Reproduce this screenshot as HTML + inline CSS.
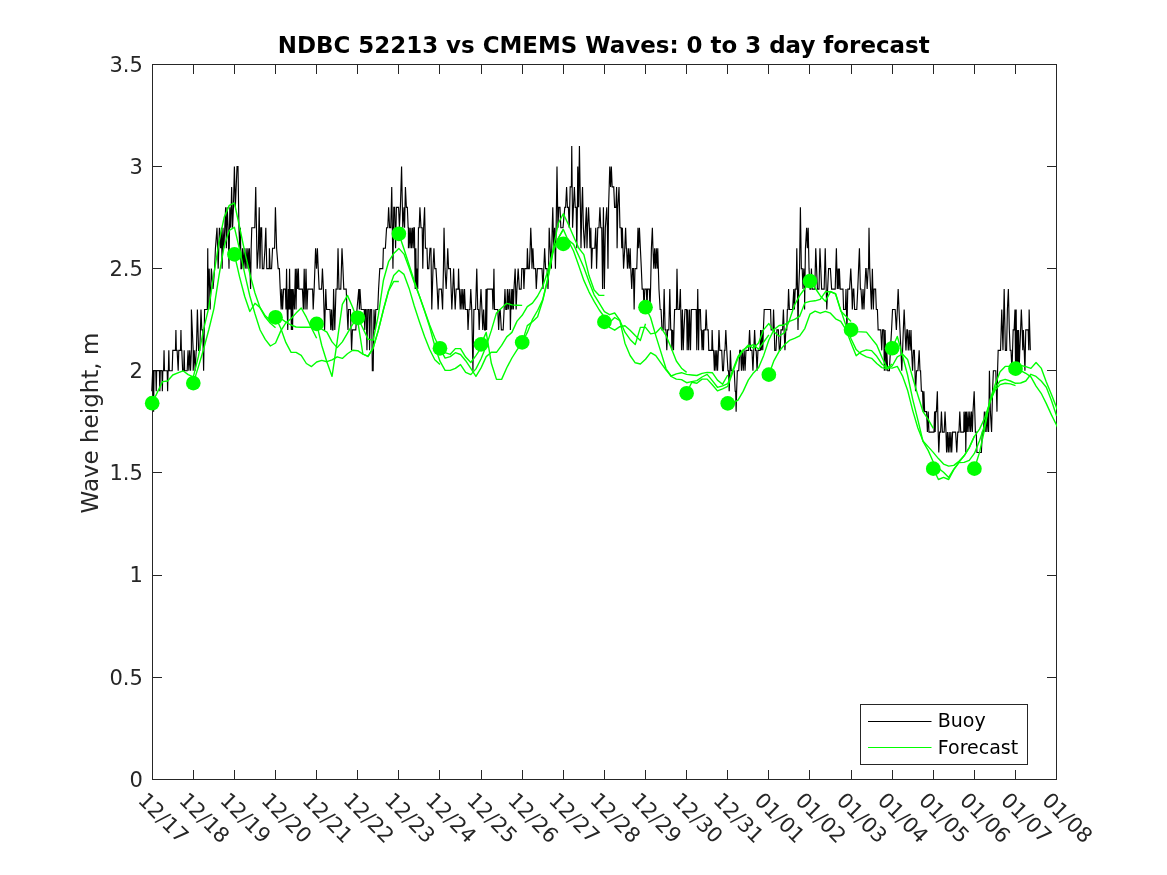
<!DOCTYPE html>
<html lang="en"><head><meta charset="utf-8"><title>NDBC 52213 vs CMEMS Waves: 0 to 3 day forecast</title>
<style>html,body{margin:0;padding:0;background:#fff;}body{width:1167px;height:875px;overflow:hidden;}svg{display:block;}text{font-family:"DejaVu Sans","Liberation Sans",sans-serif;fill:#262626;}.tk{font-size:21px;}.ax{stroke:#262626;stroke-width:1;fill:none;shape-rendering:crispEdges;}</style></head><body>
<svg width="1167" height="875" viewBox="0 0 1167 875">
<rect x="0" y="0" width="1167" height="875" fill="#ffffff"/>
<defs><clipPath id="axclip"><rect x="152" y="64" width="905" height="716"/></clipPath></defs>
<rect class="ax" x="152.5" y="64.5" width="904.0" height="715.0"/>
<path class="ax" d="M193.5 779.5v-9.5M193.5 64.5v9.5M234.5 779.5v-9.5M234.5 64.5v9.5M275.5 779.5v-9.5M275.5 64.5v9.5M316.5 779.5v-9.5M316.5 64.5v9.5M357.5 779.5v-9.5M357.5 64.5v9.5M398.5 779.5v-9.5M398.5 64.5v9.5M439.5 779.5v-9.5M439.5 64.5v9.5M481.5 779.5v-9.5M481.5 64.5v9.5M522.5 779.5v-9.5M522.5 64.5v9.5M563.5 779.5v-9.5M563.5 64.5v9.5M604.5 779.5v-9.5M604.5 64.5v9.5M645.5 779.5v-9.5M645.5 64.5v9.5M686.5 779.5v-9.5M686.5 64.5v9.5M727.5 779.5v-9.5M727.5 64.5v9.5M768.5 779.5v-9.5M768.5 64.5v9.5M809.5 779.5v-9.5M809.5 64.5v9.5M851.5 779.5v-9.5M851.5 64.5v9.5M892.5 779.5v-9.5M892.5 64.5v9.5M933.5 779.5v-9.5M933.5 64.5v9.5M974.5 779.5v-9.5M974.5 64.5v9.5M1015.5 779.5v-9.5M1015.5 64.5v9.5M152.5 677.5h9.5M1056.5 677.5h-9.5M152.5 575.5h9.5M1056.5 575.5h-9.5M152.5 472.5h9.5M1056.5 472.5h-9.5M152.5 370.5h9.5M1056.5 370.5h-9.5M152.5 268.5h9.5M1056.5 268.5h-9.5M152.5 166.5h9.5M1056.5 166.5h-9.5"/>
<g fill="none" stroke-linejoin="round" stroke-linecap="butt">
<path d="M151.80,391.21 152.64,370.78 153.15,370.78 153.60,411.64 154.05,370.78 154.80,370.78 155.79,370.78 156.24,391.21 156.69,370.78 159.39,370.78 159.84,391.21 160.29,370.78 161.40,370.78 161.91,370.78 162.36,391.21 162.81,370.78 163.20,370.78 163.59,370.78 164.04,350.35 164.49,370.78 165.00,370.78 166.80,370.78 167.18,370.78 167.63,391.21 168.08,370.78 168.23,370.78 168.38,370.78 168.83,350.35 169.28,370.78 169.79,370.78 172.19,370.78 172.79,350.35 175.19,350.35 175.46,350.35 175.91,329.92 176.36,350.35 177.11,350.35 178.19,370.78 178.79,350.35 179.99,350.35 180.50,350.35 180.95,329.92 181.40,350.35 181.79,350.35 182.63,370.78 183.59,370.78 183.74,370.78 184.19,350.35 184.64,370.78 184.79,370.78 187.19,370.78 187.19,370.78 188.03,350.35 188.87,370.78 189.71,350.35 190.55,370.78 191.39,350.35 191.39,350.35 191.39,309.49 193.19,350.35 193.19,370.78 194.19,350.35 195.19,370.78 196.19,350.35 196.43,350.35 197.39,309.49 198.59,350.35 199.79,350.35 200.99,309.49 201.83,329.92 202.78,329.92 203.62,370.78 204.58,309.49 205.78,309.49 206.20,309.49 207.30,309.49 207.75,248.21 208.20,309.49 208.23,289.06 209.19,268.64 210.15,309.49 211.35,268.64 213.03,289.06 214.59,268.64 215.43,248.21 216.99,227.78 218.19,268.64 219.39,227.78 220.59,248.21 221.43,227.78 222.15,268.64 222.99,227.78 223.83,248.21 224.79,227.78 225.63,207.35 226.35,248.21 227.19,207.35 228.15,227.78 228.99,268.64 229.83,207.35 230.79,227.78 231.63,186.92 232.59,227.78 233.43,207.35 234.39,166.49 235.35,207.35 236.19,186.92 237.03,166.49 237.99,166.49 238.95,227.78 239.79,248.21 240.39,227.78 240.99,268.64 241.59,268.64 242.49,248.21 243.38,268.64 244.28,248.21 245.18,268.64 246.08,248.21 246.98,268.64 247.88,248.21 248.78,268.64 249.38,248.21 250.58,289.06 251.18,248.21 251.78,227.78 254.78,227.78 255.74,186.92 257.18,268.64 258.38,248.21 259.22,207.35 259.94,268.64 260.78,227.78 261.62,227.78 262.34,268.64 263.78,268.64 264.98,248.21 265.82,227.78 266.78,268.64 269.18,268.64 269.42,248.21 270.14,268.64 271.58,268.64 272.54,248.21 274.58,248.21 275.42,207.35 276.62,248.21 278.17,268.64 279.37,268.64 280.21,289.06 281.17,309.49 281.77,289.06 282.61,309.49 283.57,289.06 285.37,289.06 285.97,309.49 286.57,268.64 287.17,309.49 287.77,329.92 288.37,289.06 288.97,309.49 289.57,268.64 290.17,309.49 290.77,289.06 291.37,329.92 291.97,289.06 292.57,329.92 293.17,289.06 294.37,309.49 295.33,268.64 296.05,309.49 296.77,268.64 297.61,289.06 298.33,268.64 298.93,289.06 302.17,289.06 302.40,289.06 303.36,309.49 304.20,268.64 305.04,309.49 306.00,268.64 306.96,309.49 307.80,289.06 312.60,289.06 313.20,309.49 314.16,289.06 315.60,248.21 316.56,268.64 317.40,248.21 318.23,268.64 319.19,289.06 321.59,289.06 322.43,268.64 323.39,289.06 324.59,329.92 325.79,289.06 326.63,309.49 329.39,309.49 329.99,309.49 330.79,329.92 331.59,309.49 332.39,329.92 332.99,329.92 333.59,289.06 334.79,329.92 335.99,289.06 337.19,289.06 338.03,248.21 338.99,289.06 340.79,289.06 341.99,248.21 342.95,268.64 343.79,289.06 346.19,289.06 347.03,309.49 347.99,329.92 348.59,309.49 350.39,309.49 351.59,350.35 352.43,329.92 355.78,329.92 356.98,309.49 358.78,289.06 359.38,309.49 359.98,289.06 361.18,309.49 364.18,309.49 364.78,329.92 365.38,309.49 366.22,309.49 366.94,350.35 367.78,309.49 368.98,309.49 369.58,350.35 370.42,309.49 371.62,309.49 372.34,370.78 373.18,370.78 374.02,309.49 374.98,329.92 375.82,309.49 377.74,309.49 378.58,289.06 379.78,268.64 382.78,268.64 383.38,248.21 385.18,248.21 385.38,248.21 386.58,227.78 387.78,227.78 388.62,207.35 389.58,227.78 390.78,227.78 391.74,186.92 392.94,268.64 393.78,207.35 394.62,207.35 395.58,248.21 396.42,207.35 398.58,207.35 399.42,227.78 400.38,207.35 401.58,166.49 402.78,227.78 403.98,207.35 404.58,227.78 405.42,186.92 406.38,207.35 407.34,207.35 408.17,227.78 408.40,227.78 408.40,248.21 409.20,227.78 410.00,248.21 410.80,227.78 411.60,248.21 412.40,227.78 413.20,248.21 413.80,227.78 414.40,227.78 415.24,289.06 415.84,248.21 416.44,289.06 417.04,268.64 417.75,289.06 418.47,227.78 419.19,227.78 419.91,207.35 420.99,227.78 422.19,227.78 422.79,268.64 423.63,227.78 424.59,207.35 425.43,248.21 426.99,248.21 427.59,268.64 428.79,268.64 429.99,248.21 430.95,248.21 431.79,309.49 432.99,268.64 433.95,248.21 434.79,268.64 435.99,268.64 437.19,289.06 438.15,309.49 438.99,289.06 441.39,289.06 442.59,309.49 443.43,268.64 444.03,227.78 444.99,268.64 446.19,289.06 447.03,268.64 447.75,248.21 448.59,268.64 450.39,268.64 451.11,289.06 451.83,309.49 452.78,289.06 453.62,268.64 454.34,289.06 455.18,309.49 456.14,289.06 458.18,289.06 458.54,268.64 459.14,289.06 459.38,289.06 460.24,309.49 461.10,289.06 461.95,309.49 462.81,289.06 463.67,309.49 464.52,289.06 465.38,309.49 465.74,309.49 467.42,309.49 468.02,329.92 468.98,309.49 469.94,309.49 470.78,289.06 471.74,309.49 472.94,370.78 473.90,309.49 475.58,309.49 476.78,268.64 477.74,309.49 478.58,309.49 479.18,329.92 480.02,309.49 480.98,289.06 481.94,309.49 482.78,329.92 483.62,309.49 484.58,329.92 485.42,329.92 486.02,289.06 486.62,329.92 487.22,289.06 492.37,289.06 492.97,309.49 493.57,289.06 493.93,268.64 494.53,309.49 497.17,309.49 497.77,309.49 498.67,329.92 499.57,309.49 500.17,309.49 501.37,329.92 503.17,329.92 504.13,309.49 504.97,289.06 505.81,309.49 506.77,309.49 507.37,289.06 507.37,289.06 508.29,309.49 509.21,289.06 510.13,309.49 510.37,329.92 511.21,289.06 511.21,289.06 511.93,309.49 512.65,289.06 513.37,309.49 513.97,289.06 515.17,268.64 516.13,309.49 516.97,289.06 518.17,268.64 519.37,289.06 521.17,289.06 521.77,268.64 523.32,268.64 523.92,289.06 524.76,268.64 526.92,268.64 527.40,248.21 528.12,268.64 529.32,268.64 530.16,248.21 530.76,227.78 531.60,248.21 531.96,268.64 532.92,248.21 533.76,268.64 535.56,268.64 536.28,289.06 537.36,268.64 540.00,268.64 540.00,268.64 542.00,268.64 542.96,289.06 543.80,268.64 544.64,248.21 545.60,268.64 547.04,268.64 547.99,289.06 548.59,268.64 549.19,227.78 550.15,248.21 551.35,268.64 552.19,227.78 552.79,207.35 553.63,248.21 554.59,227.78 555.43,268.64 556.15,227.78 556.99,166.49 557.95,227.78 558.79,207.35 559.99,207.35 560.83,227.78 562.99,227.78 564.79,207.35 565.63,207.35 566.59,186.92 567.43,207.35 568.39,207.35 569.23,227.78 570.19,186.92 571.39,186.92 571.75,146.06 572.59,227.78 573.43,207.35 574.39,186.92 575.23,207.35 576.19,207.35 576.79,248.21 577.39,207.35 577.75,166.49 578.59,207.35 579.43,146.06 580.39,207.35 580.99,248.21 581.83,207.35 582.54,186.92 583.38,227.78 584.58,248.21 585.42,227.78 586.38,207.35 586.98,248.21 587.58,227.78 588.54,207.35 589.38,227.78 589.98,248.21 590.82,227.78 591.54,268.64 592.38,248.21 594.78,248.21 595.74,227.78 596.58,268.64 597.18,248.21 597.78,227.78 598.98,227.78 599.94,207.35 600.78,227.78 601.74,227.78 602.58,289.06 603.42,207.35 604.38,289.06 605.34,227.78 606.78,207.35 607.38,227.78 607.98,268.64 608.58,207.35 609.18,186.92 609.78,166.49 610.62,186.92 611.34,166.49 612.18,186.92 613.74,186.92 614.58,207.35 615.42,207.35 615.90,207.35 616.62,186.92 617.10,248.21 617.81,207.35 619.01,186.92 619.97,227.78 621.17,227.78 621.77,248.21 622.37,227.78 623.57,268.64 624.77,248.21 625.61,227.78 626.33,248.21 626.57,248.21 627.47,268.64 628.37,248.21 629.27,268.64 630.17,248.21 630.77,268.64 631.73,289.06 632.57,268.64 633.41,268.64 634.13,309.49 634.97,268.64 636.77,268.64 637.37,248.21 637.97,227.78 638.69,248.21 639.41,227.78 640.37,248.21 641.33,268.64 642.17,289.06 643.37,289.06 643.97,309.49 644.81,289.06 646.37,289.06 646.97,309.49 647.57,289.06 649.37,289.06 649.97,309.49 650.57,289.06 651.41,248.21 652.37,227.78 652.96,248.21 652.96,248.21 653.80,268.64 654.64,248.21 655.48,268.64 656.32,248.21 657.16,268.64 657.76,248.21 658.96,289.06 660.16,309.49 661.04,309.49 662.00,329.92 663.20,329.92 664.16,289.06 665.12,329.92 665.96,329.92 666.80,350.35 667.63,329.92 668.83,329.92 669.79,289.06 670.75,329.92 671.59,329.92 671.83,350.35 672.67,329.92 673.51,350.35 673.99,329.92 674.59,309.49 676.39,309.49 676.99,268.64 677.83,309.49 679.39,309.49 680.35,289.06 681.19,329.92 681.55,350.35 682.39,309.49 683.23,350.35 683.95,329.92 685.03,309.49 686.59,309.49 687.19,350.35 687.79,309.49 687.79,309.49 688.69,350.35 689.59,309.49 690.49,350.35 691.39,309.49 691.99,309.49 695.59,309.49 696.19,309.49 696.79,350.35 697.75,289.06 698.59,350.35 699.19,309.49 700.39,309.49 700.99,329.92 701.35,329.92 702.07,350.35 702.78,329.92 703.50,350.35 703.98,329.92 705.42,329.92 706.14,309.49 706.98,329.92 708.18,329.92 708.78,350.35 711.78,350.35 712.14,329.92 712.86,350.35 713.58,350.35 714.38,370.78 715.18,350.35 715.98,370.78 716.78,350.35 717.58,370.78 718.38,350.35 718.98,329.92 719.82,350.35 721.74,350.35 722.58,370.78 723.42,370.78 724.38,350.35 724.98,350.35 725.82,329.92 726.78,350.35 727.98,370.78 728.58,370.78 729.18,391.21 729.90,370.78 730.38,350.35 731.22,370.78 733.38,370.78 734.22,370.78 735.18,391.21 735.66,391.21 736.14,411.64 736.62,391.21 737.34,370.78 738.77,370.78 739.73,350.35 740.57,350.35 741.47,370.78 742.37,350.35 743.27,370.78 744.17,350.35 745.07,370.78 745.97,350.35 746.57,350.35 748.61,350.35 749.57,329.92 750.53,350.35 751.97,350.35 752.93,370.78 753.77,350.35 754.61,329.92 755.57,350.35 756.17,350.35 757.07,370.78 757.97,350.35 758.57,350.35 760.13,350.35 760.61,329.92 760.61,329.92 761.33,350.35 762.05,329.92 762.77,350.35 763.37,329.92 764.21,309.49 764.93,309.49 770.57,309.49 771.17,329.92 772.96,329.92 773.56,309.49 774.28,329.92 774.76,350.35 775.96,350.35 776.92,329.92 778.36,329.92 779.32,350.35 780.16,350.35 781.00,329.92 782.56,329.92 783.40,309.49 784.12,329.92 784.96,350.35 785.80,329.92 786.76,329.92 787.36,309.49 787.96,309.49 788.56,289.06 789.40,309.49 789.60,309.49 792.60,309.49 793.80,289.06 794.40,309.49 795.24,289.06 796.20,289.06 796.80,248.21 797.51,289.06 797.99,329.92 798.71,289.06 799.55,268.64 800.39,207.35 801.35,268.64 802.19,268.64 802.99,289.06 803.79,268.64 804.59,289.06 804.59,309.49 805.43,248.21 806.63,227.78 807.35,248.21 808.19,227.78 809.03,268.64 809.99,289.06 810.59,289.06 811.43,268.64 812.15,289.06 814.79,289.06 815.75,248.21 816.59,268.64 817.43,289.06 818.99,289.06 819.95,248.21 820.79,268.64 821.63,289.06 824.15,289.06 825.23,248.21 826.19,289.06 826.79,309.49 827.63,289.06 828.59,268.64 830.39,268.64 831.59,289.06 835.18,289.06 836.38,248.21 837.34,289.06 838.18,268.64 838.78,289.06 839.38,268.64 840.22,289.06 842.98,289.06 843.58,309.49 845.38,309.49 845.98,289.06 846.94,329.92 847.78,289.06 849.58,289.06 850.78,268.64 851.74,289.06 852.34,309.49 853.18,289.06 853.78,289.06 854.62,309.49 856.78,309.49 857.74,289.06 858.58,268.64 859.42,248.21 860.38,289.06 860.98,289.06 862.18,309.49 863.02,289.06 863.98,309.49 864.82,289.06 865.78,268.64 866.14,268.64 867.16,289.06 868.17,268.64 868.53,268.64 869.01,227.78 869.73,268.64 870.57,289.06 871.41,309.49 872.37,268.64 873.33,309.49 874.05,289.06 874.77,289.06 875.61,289.06 876.33,309.49 877.41,309.49 878.13,329.92 879.81,329.92 880.77,329.92 881.73,350.35 882.57,329.92 883.77,329.92 884.37,370.78 885.09,329.92 886.05,370.78 886.77,350.35 887.73,370.78 889.41,370.78 890.37,350.35 891.57,329.92 892.53,309.49 893.37,309.49 895.17,309.49 896.37,329.92 897.33,309.49 898.17,289.06 899.01,309.49 899.97,329.92 900.93,350.35 901.77,370.78 902.60,350.35 903.32,329.92 904.16,309.49 905.00,329.92 905.96,350.35 906.92,329.92 907.40,329.92 908.30,350.35 909.20,329.92 910.10,350.35 911.00,329.92 911.60,350.35 912.56,370.78 913.40,350.35 914.36,350.35 915.56,391.21 916.52,370.78 917.96,370.78 919.16,350.35 920.00,370.78 920.56,370.78 921.40,391.21 922.60,391.21 923.20,411.64 923.92,391.21 924.64,411.64 926.56,411.64 927.40,432.06 928.23,411.64 928.95,432.06 933.99,432.06 934.59,411.64 935.19,432.06 935.79,411.64 936.39,411.64 937.35,391.21 938.19,432.06 938.79,452.49 939.63,432.06 940.59,432.06 941.43,411.64 942.39,432.06 944.19,432.06 945.03,411.64 945.99,432.06 946.59,452.49 947.45,432.06 948.30,452.49 949.16,432.06 950.02,452.49 950.87,432.06 951.73,452.49 952.59,432.06 953.19,432.06 955.59,432.06 956.79,452.49 957.75,432.06 958.95,432.06 959.79,411.64 960.75,432.06 963.74,432.06 963.98,411.64 964.70,432.06 965.42,411.64 965.78,452.49 966.38,411.64 966.38,411.64 967.24,432.06 968.10,411.64 968.95,432.06 969.81,411.64 970.67,432.06 971.53,411.64 972.38,432.06 972.98,411.64 974.18,391.21 975.38,432.06 976.22,432.06 976.94,452.49 981.38,452.49 982.34,432.06 983.42,432.06 984.38,411.64 984.38,411.64 985.22,432.06 986.06,411.64 986.90,432.06 987.74,411.64 988.58,432.06 988.94,411.64 989.42,370.78 990.38,411.64 991.58,432.06 992.54,391.21 993.38,370.78 995.78,370.78 996.38,391.21 996.98,411.64 997.57,370.78 998.17,350.35 1000.57,350.35 1001.17,329.92 1001.77,309.49 1002.97,350.35 1004.17,289.06 1005.37,350.35 1006.57,350.35 1007.41,309.49 1008.37,289.06 1009.33,329.92 1010.17,350.35 1011.01,350.35 1011.97,370.78 1012.57,350.35 1013.17,329.92 1014.13,329.92 1014.97,309.49 1015.57,370.78 1016.17,309.49 1016.77,370.78 1017.37,329.92 1017.97,370.78 1018.57,329.92 1019.17,370.78 1019.77,350.35 1020.61,329.92 1021.33,309.49 1022.17,329.92 1022.77,350.35 1023.37,329.92 1024.21,350.35 1024.93,370.78 1025.77,329.92 1028.17,329.92 1028.77,350.35 1029.13,309.49 1029.73,329.92 1030.33,350.35" stroke="#000" stroke-width="1.15" stroke-linejoin="miter" stroke-miterlimit="2"/>
<g clip-path="url(#axclip)">
<path d="M152.20,403.20 157.34,392.40 162.48,381.60 167.62,381.00 172.75,375.00 177.89,372.80 183.03,370.80 188.17,374.60 193.31,376.80 198.45,356.40 203.59,329.40 208.72,307.80 213.86,274.30 219.00,242.10 224.14,217.40 229.28,205.40 234.42,203.00 239.56,227.00 244.70,251.70 249.83,273.60 254.97,293.00 260.11,307.90 265.25,317.10 270.39,323.30 275.53,327.70" stroke="#00ff00" stroke-width="1.4"/>
<path d="M193.31,383.10 198.45,366.60 203.59,349.20 208.72,330.00 213.86,308.80 219.00,275.70 224.14,246.20 229.28,230.40 234.42,227.30 239.56,249.30 244.70,273.60 249.83,296.00 254.97,313.80 260.11,330.00 265.25,339.40 270.39,346.00 275.53,343.00 280.67,331.10 285.80,322.90 290.94,318.80 296.08,313.10 301.22,308.00 306.36,317.20 311.50,328.00 316.64,338.30" stroke="#00ff00" stroke-width="1.4"/>
<path d="M234.42,254.40 239.56,276.90 244.70,296.50 249.83,311.50 254.97,303.30 260.11,307.60 265.25,315.80 270.39,320.50 275.53,322.00 280.67,318.30 285.80,322.10 290.94,325.00 296.08,327.00 301.22,327.20 306.36,327.20 311.50,327.20 316.64,327.50 321.77,329.10 326.91,332.20 332.05,341.90 337.19,347.60 342.33,341.90 347.47,333.20 352.61,324.40 357.75,317.80" stroke="#00ff00" stroke-width="1.4"/>
<path d="M275.53,317.30 280.67,328.00 285.80,342.40 290.94,352.20 296.08,352.40 301.22,355.30 306.36,363.50 311.50,366.60 316.64,362.00 321.77,360.40 326.91,361.70 332.05,359.90 337.19,356.80 342.33,358.40 347.47,353.80 352.61,350.20 357.75,350.70 362.88,354.20 368.02,356.10 373.16,348.40 378.30,330.40 383.44,309.80 388.58,291.00 393.72,281.50 398.85,281.50" stroke="#00ff00" stroke-width="1.4"/>
<path d="M316.64,323.90 321.77,345.50 326.91,362.00 332.05,376.40 337.19,341.40 342.33,304.40 347.47,295.40 352.61,307.20 357.75,321.00 362.88,354.00 368.02,356.60 373.16,347.50 378.30,330.50 383.44,309.50 388.58,290.50 393.72,275.60 398.85,270.30 403.99,274.40 409.13,288.40 414.27,306.00 419.41,321.70 424.55,336.40 429.69,349.50 434.82,359.70 439.96,364.60" stroke="#00ff00" stroke-width="1.4"/>
<path d="M357.75,317.80 362.88,328.30 368.02,339.10 373.16,340.20 378.30,315.40 383.44,280.20 388.58,261.70 393.72,253.50 398.85,248.40 403.99,254.10 409.13,267.90 414.27,282.80 419.41,296.10 424.55,310.50 429.69,325.00 434.82,338.00 439.96,349.00 445.10,352.70 450.24,354.30 455.38,348.60 460.52,348.60 465.66,357.10 470.80,362.50 475.93,355.60 481.07,347.90" stroke="#00ff00" stroke-width="1.4"/>
<path d="M398.85,233.80 403.99,249.00 409.13,265.00 414.27,281.00 419.41,296.00 424.55,311.00 429.69,327.00 434.82,346.00 439.96,361.20 445.10,370.40 450.24,370.40 455.38,368.40 460.52,364.60 465.66,372.30 470.80,374.60 475.93,368.90 481.07,358.70 486.21,346.10 491.35,330.40 496.49,312.90 501.63,308.00 506.77,303.30 511.90,304.90 517.04,305.20 522.18,305.40" stroke="#00ff00" stroke-width="1.4"/>
<path d="M439.96,348.30 445.10,358.10 450.24,356.60 455.38,352.70 460.52,354.50 465.66,360.70 470.80,368.40 475.93,376.40 481.07,367.90 486.21,356.60 491.35,352.30 496.49,352.30 501.63,345.40 506.77,336.90 511.90,332.40 517.04,321.10 522.18,315.30 527.32,306.70 532.46,303.20 537.60,296.00 542.74,286.40 547.88,270.80 553.01,251.00 558.15,238.50 563.29,229.40" stroke="#00ff00" stroke-width="1.4"/>
<path d="M481.07,344.40 486.21,332.40 491.35,363.30 496.49,379.40 501.63,379.40 506.77,367.80 511.90,358.00 517.04,349.80 522.18,343.00 527.32,332.40 532.46,319.40 537.60,310.50 542.74,299.60 547.88,278.00 553.01,249.50 558.15,223.80 563.29,213.80 568.43,224.50 573.57,236.50 578.71,248.00 583.85,254.60 588.98,275.60 594.12,290.00 599.26,295.40 604.40,295.40" stroke="#00ff00" stroke-width="1.4"/>
<path d="M522.18,342.40 527.32,325.60 532.46,321.80 537.60,316.70 542.74,300.50 547.88,279.00 553.01,252.50 558.15,238.50 563.29,229.40 568.43,241.00 573.57,251.00 578.71,265.40 583.85,280.40 588.98,291.80 594.12,301.40 599.26,310.00 604.40,317.00 609.54,327.40 614.68,330.20 619.82,326.70 624.95,325.70 630.09,330.20 635.23,335.60 640.37,340.40 645.51,323.70" stroke="#00ff00" stroke-width="1.4"/>
<path d="M563.29,243.80 568.43,240.00 573.57,244.40 578.71,255.80 583.85,267.50 588.98,281.50 594.12,294.80 599.26,303.20 604.40,311.65 609.54,314.70 614.68,313.00 619.82,320.20 624.95,332.20 630.09,339.40 635.23,344.60 640.37,327.40 645.51,327.40 650.65,333.90 655.79,332.90 660.92,327.40 666.06,335.60 671.20,348.00 676.34,361.00 681.48,368.20 686.62,372.40" stroke="#00ff00" stroke-width="1.4"/>
<path d="M604.40,321.90 609.54,322.60 614.68,317.50 619.82,320.60 624.95,343.20 630.09,355.50 635.23,362.80 640.37,364.00 645.51,359.20 650.65,352.60 655.79,355.60 660.92,362.80 666.06,370.00 671.20,376.00 676.34,373.90 681.48,372.70 686.62,374.40 691.76,375.00 696.90,375.50 702.03,373.40 707.17,372.40 712.31,372.70 717.45,380.10 722.59,384.20 727.73,375.00" stroke="#00ff00" stroke-width="1.4"/>
<path d="M645.51,307.20 650.65,317.80 655.79,335.60 660.92,352.10 666.06,368.80 671.20,376.50 676.34,379.10 681.48,379.60 686.62,382.70 691.76,381.60 696.90,380.60 702.03,377.00 707.17,374.40 712.31,380.60 717.45,387.30 722.59,385.80 727.73,383.70 732.87,369.80 738.00,356.50 743.14,349.80 748.28,346.70 753.42,344.60 758.56,349.20 763.70,342.00 768.84,334.80" stroke="#00ff00" stroke-width="1.4"/>
<path d="M686.62,393.30 691.76,382.20 696.90,383.20 702.03,379.10 707.17,379.10 712.31,384.70 717.45,390.90 722.59,388.80 727.73,386.30 732.87,371.90 738.00,358.00 743.14,350.80 748.28,345.00 753.42,348.20 758.56,343.00 763.70,329.60 768.84,323.50 773.97,331.70 779.11,336.30 784.25,332.70 789.39,320.40 794.53,305.00 799.67,295.70 804.81,288.50 809.95,282.30" stroke="#00ff00" stroke-width="1.4"/>
<path d="M727.73,403.40 732.87,402.90 738.00,400.20 743.14,391.40 748.28,380.10 753.42,372.90 758.56,367.80 763.70,355.40 768.84,340.00 773.97,329.60 779.11,325.50 784.25,325.00 789.39,321.40 794.53,319.40 799.67,316.30 804.81,302.90 809.95,301.40 815.08,300.80 820.22,299.30 825.36,291.80 830.50,291.60 835.64,293.70 840.78,311.10 845.92,316.30 851.05,321.40" stroke="#00ff00" stroke-width="1.4"/>
<path d="M768.84,374.65 773.97,360.60 779.11,351.30 784.25,345.10 789.39,340.40 794.53,338.40 799.67,335.80 804.81,328.60 809.95,314.20 815.08,311.10 820.22,313.20 825.36,311.40 830.50,313.20 835.64,318.80 840.78,321.40 845.92,329.60 851.05,343.00 856.19,355.80 861.33,351.60 866.47,349.90 871.61,350.60 876.75,356.30 881.89,364.00 887.03,368.10 892.16,364.00" stroke="#00ff00" stroke-width="1.4"/>
<path d="M809.95,281.10 815.08,288.00 820.22,295.70 825.36,301.40 830.50,291.60 835.64,294.20 840.78,310.10 845.92,325.50 851.05,338.80 856.19,349.60 861.33,354.20 866.47,356.80 871.61,358.30 876.75,363.50 881.89,367.60 887.03,368.80 892.16,366.00 897.30,356.80 902.44,354.00 907.58,359.40 912.72,377.90 917.86,395.30 923.00,411.60 928.13,419.30 933.27,428.30" stroke="#00ff00" stroke-width="1.4"/>
<path d="M851.05,329.85 856.19,331.60 861.33,331.90 866.47,332.10 871.61,338.60 876.75,345.00 881.89,357.30 887.03,367.60 892.16,368.10 897.30,366.40 902.44,375.80 907.58,390.20 912.72,410.60 917.86,428.00 923.00,441.00 928.13,446.60 933.27,452.40 938.41,458.60 943.55,464.10 948.69,466.10 953.83,465.40 958.97,461.30 964.10,455.80 969.24,447.60 974.38,436.30" stroke="#00ff00" stroke-width="1.4"/>
<path d="M892.16,348.25 897.30,336.50 902.44,355.20 907.58,375.00 912.72,399.30 917.86,419.80 923.00,441.50 928.13,450.40 933.27,462.00 938.41,468.20 943.55,472.30 948.69,477.40 953.83,469.20 958.97,462.40 964.10,455.80 969.24,447.60 974.38,436.30 979.52,429.10 984.66,418.00 989.80,402.60 994.94,390.20 1000.08,384.60 1005.21,383.30 1010.35,383.90 1015.49,385.60" stroke="#00ff00" stroke-width="1.4"/>
<path d="M933.27,468.67 938.41,479.50 943.55,477.40 948.69,479.50 953.83,469.60 958.97,462.60 964.10,462.40 969.24,460.30 974.38,453.40 979.52,440.80 984.66,425.00 989.80,402.10 994.94,388.20 1000.08,381.00 1005.21,379.40 1010.35,381.00 1015.49,383.30 1020.63,383.00 1025.77,381.00 1030.91,374.30 1036.05,376.40 1041.18,381.00 1046.32,387.20 1051.46,400.50 1056.60,416.00" stroke="#00ff00" stroke-width="1.4"/>
<path d="M974.38,468.67 979.52,452.40 984.66,429.10 989.80,400.50 994.94,385.10 1000.08,371.70 1005.21,366.40 1010.35,366.40 1015.49,365.60 1020.63,365.40 1025.77,366.60 1030.91,368.40 1036.05,362.50 1041.18,368.10 1046.32,382.00 1051.46,394.40 1056.60,407.70 1061.74,420.00" stroke="#00ff00" stroke-width="1.4"/>
<path d="M1015.49,368.65 1020.63,370.70 1025.77,373.30 1030.91,376.90 1036.05,386.10 1041.18,393.30 1046.32,403.60 1051.46,414.90 1056.60,425.20 1061.74,436.00" stroke="#00ff00" stroke-width="1.4"/>
</g>
<circle cx="152.20" cy="403.20" r="7.35" fill="#00ff00" stroke="none"/>
<circle cx="193.31" cy="383.10" r="7.35" fill="#00ff00" stroke="none"/>
<circle cx="234.42" cy="254.40" r="7.35" fill="#00ff00" stroke="none"/>
<circle cx="275.53" cy="317.30" r="7.35" fill="#00ff00" stroke="none"/>
<circle cx="316.64" cy="323.90" r="7.35" fill="#00ff00" stroke="none"/>
<circle cx="357.75" cy="317.80" r="7.35" fill="#00ff00" stroke="none"/>
<circle cx="398.85" cy="233.80" r="7.35" fill="#00ff00" stroke="none"/>
<circle cx="439.96" cy="348.30" r="7.35" fill="#00ff00" stroke="none"/>
<circle cx="481.07" cy="344.40" r="7.35" fill="#00ff00" stroke="none"/>
<circle cx="522.18" cy="342.40" r="7.35" fill="#00ff00" stroke="none"/>
<circle cx="563.29" cy="243.80" r="7.35" fill="#00ff00" stroke="none"/>
<circle cx="604.40" cy="321.90" r="7.35" fill="#00ff00" stroke="none"/>
<circle cx="645.51" cy="307.20" r="7.35" fill="#00ff00" stroke="none"/>
<circle cx="686.62" cy="393.30" r="7.35" fill="#00ff00" stroke="none"/>
<circle cx="727.73" cy="403.40" r="7.35" fill="#00ff00" stroke="none"/>
<circle cx="768.84" cy="374.65" r="7.35" fill="#00ff00" stroke="none"/>
<circle cx="809.95" cy="281.10" r="7.35" fill="#00ff00" stroke="none"/>
<circle cx="851.05" cy="329.85" r="7.35" fill="#00ff00" stroke="none"/>
<circle cx="892.16" cy="348.25" r="7.35" fill="#00ff00" stroke="none"/>
<circle cx="933.27" cy="468.67" r="7.35" fill="#00ff00" stroke="none"/>
<circle cx="974.38" cy="468.67" r="7.35" fill="#00ff00" stroke="none"/>
<circle cx="1015.49" cy="368.65" r="7.35" fill="#00ff00" stroke="none"/>
</g>
<text class="tk" x="142.8" y="786.6" text-anchor="end">0</text>
<text class="tk" x="142.8" y="684.5" text-anchor="end">0.5</text>
<text class="tk" x="142.8" y="582.3" text-anchor="end">1</text>
<text class="tk" x="142.8" y="480.2" text-anchor="end">1.5</text>
<text class="tk" x="142.8" y="378.0" text-anchor="end">2</text>
<text class="tk" x="142.8" y="275.9" text-anchor="end">2.5</text>
<text class="tk" x="142.8" y="173.7" text-anchor="end">3</text>
<text class="tk" x="142.8" y="71.6" text-anchor="end">3.5</text>
<text class="tk" transform="translate(136.90 801.6) rotate(45)" x="0" y="0">12/17</text>
<text class="tk" transform="translate(177.99 801.6) rotate(45)" x="0" y="0">12/18</text>
<text class="tk" transform="translate(219.08 801.6) rotate(45)" x="0" y="0">12/19</text>
<text class="tk" transform="translate(260.17 801.6) rotate(45)" x="0" y="0">12/20</text>
<text class="tk" transform="translate(301.26 801.6) rotate(45)" x="0" y="0">12/21</text>
<text class="tk" transform="translate(342.35 801.6) rotate(45)" x="0" y="0">12/22</text>
<text class="tk" transform="translate(383.45 801.6) rotate(45)" x="0" y="0">12/23</text>
<text class="tk" transform="translate(424.54 801.6) rotate(45)" x="0" y="0">12/24</text>
<text class="tk" transform="translate(465.63 801.6) rotate(45)" x="0" y="0">12/25</text>
<text class="tk" transform="translate(506.72 801.6) rotate(45)" x="0" y="0">12/26</text>
<text class="tk" transform="translate(547.81 801.6) rotate(45)" x="0" y="0">12/27</text>
<text class="tk" transform="translate(588.90 801.6) rotate(45)" x="0" y="0">12/28</text>
<text class="tk" transform="translate(629.99 801.6) rotate(45)" x="0" y="0">12/29</text>
<text class="tk" transform="translate(671.08 801.6) rotate(45)" x="0" y="0">12/30</text>
<text class="tk" transform="translate(712.17 801.6) rotate(45)" x="0" y="0">12/31</text>
<text class="tk" transform="translate(753.26 801.6) rotate(45)" x="0" y="0">01/01</text>
<text class="tk" transform="translate(794.35 801.6) rotate(45)" x="0" y="0">01/02</text>
<text class="tk" transform="translate(835.45 801.6) rotate(45)" x="0" y="0">01/03</text>
<text class="tk" transform="translate(876.54 801.6) rotate(45)" x="0" y="0">01/04</text>
<text class="tk" transform="translate(917.63 801.6) rotate(45)" x="0" y="0">01/05</text>
<text class="tk" transform="translate(958.72 801.6) rotate(45)" x="0" y="0">01/06</text>
<text class="tk" transform="translate(999.81 801.6) rotate(45)" x="0" y="0">01/07</text>
<text class="tk" transform="translate(1040.90 801.6) rotate(45)" x="0" y="0">01/08</text>
<text x="603.7" y="53" text-anchor="middle" style="font-size:22.95px;font-weight:bold;fill:#000">NDBC 52213 vs CMEMS Waves: 0 to 3 day forecast</text>
<text transform="translate(98 423) rotate(-90)" text-anchor="middle" style="font-size:23px">Wave height, m</text>
<rect x="860.5" y="704.5" width="167" height="60" fill="#fff" stroke="#262626" stroke-width="1" shape-rendering="crispEdges"/>
<path d="M868 721.5H931.5" stroke="#000" stroke-width="1"/>
<path d="M868 747.5H931.5" stroke="#00ff00" stroke-width="1"/>
<text x="937.8" y="726.7" style="font-size:19px;fill:#000">Buoy</text>
<text x="937.8" y="753.5" style="font-size:19px;fill:#000">Forecast</text>
</svg></body></html>
